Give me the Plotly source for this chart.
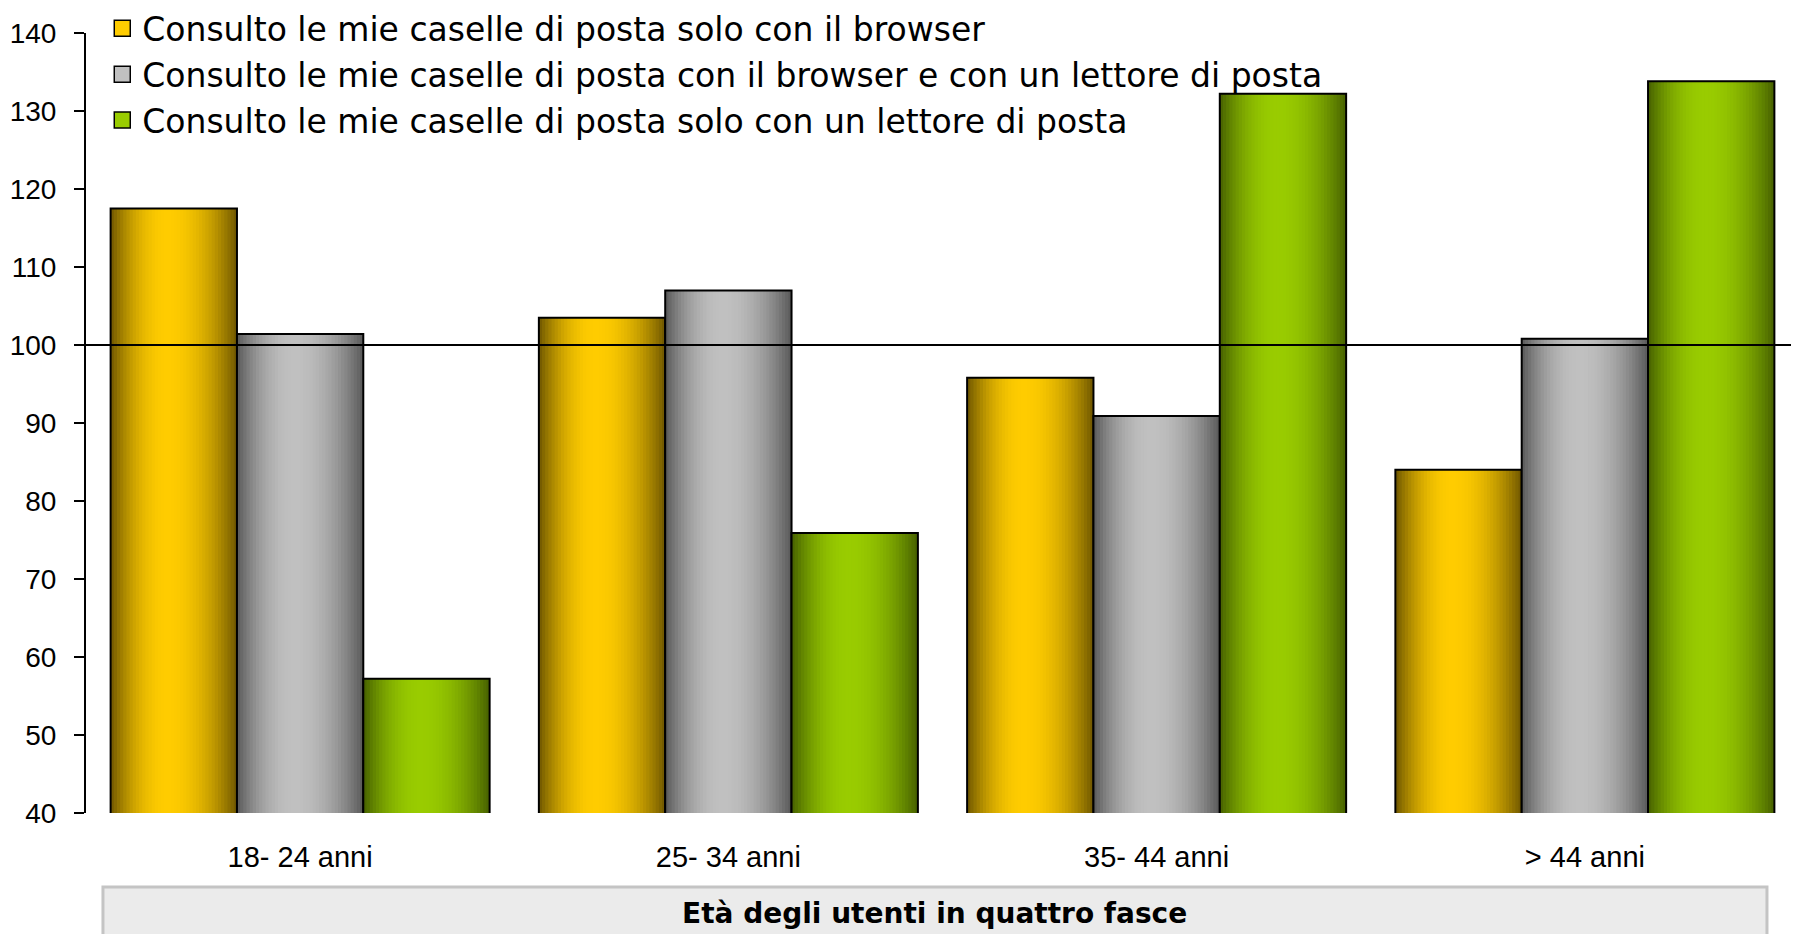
import plotly.graph_objects as go

# ---------------- data ----------------
categories = ["18- 24 anni", "25- 34 anni", "35- 44 anni", "> 44 anni"]
series_names = [
    "Consulto le mie caselle di posta solo con il browser",
    "Consulto le mie caselle di posta con il browser e con un lettore di posta",
    "Consulto le mie caselle di posta solo con un lettore di posta",
]
browser_only = [117.5, 103.5, 95.8, 84.0]
browser_and_client = [101.4, 107.0, 90.9, 100.8]
client_only = [57.2, 75.9, 132.2, 133.8]
reference_level = 100
x_title = "Età degli utenti in quattro fasce"
y_ticks = [40, 50, 60, 70, 80, 90, 100, 110, 120, 130, 140]

# ---------------- styles ----------------
series_values = [browser_only, browser_and_client, client_only]
bright = [(255, 204, 0), (192, 192, 192), (153, 204, 0)]
dark = [(110, 86, 0), (88, 88, 88), (70, 96, 0)]
BAR_W = 0.295
OFFSETS = [-0.4425, -0.1475, 0.1475]
N_STRIPS = 40
PEAK = 0.45

FONT = "Liberation Sans"


def grad_color(i, t):
    if t <= PEAK:
        f = 1 - ((PEAK - t) / PEAK) ** 2
    else:
        f = 1 - ((t - PEAK) / (1 - PEAK)) ** 2
    f = max(0.0, min(1.0, f))
    d, b = dark[i], bright[i]
    c = [round(d[k] + (b[k] - d[k]) * f) for k in range(3)]
    return f"rgb({c[0]},{c[1]},{c[2]})"


fig = go.Figure()

for i, (name, vals) in enumerate(zip(series_names, series_values)):
    # legend entry
    fig.add_trace(go.Scatter(
        x=[None], y=[None], mode="markers", name=name, legendgroup=f"g{i}",
        marker=dict(symbol="square", size=16, color="rgb(%d,%d,%d)" % bright[i],
                    line=dict(color="black", width=1.5)),
        hoverinfo="skip",
    ))
    # gradient strips
    s = BAR_W / N_STRIPS
    for k in range(N_STRIPS):
        t = (k + 0.5) / N_STRIPS
        fig.add_trace(go.Bar(
            x=categories, y=vals, showlegend=False, legendgroup=f"g{i}",
            offset=OFFSETS[i] + k * s, width=BAR_W - k * s,
            marker=dict(color=grad_color(i, t), line=dict(width=0)),
            hoverinfo="skip",
        ))
    # outline
    fig.add_trace(go.Bar(
        x=categories, y=vals, showlegend=False, legendgroup=f"g{i}",
        offset=OFFSETS[i], width=BAR_W, name=name,
        marker=dict(color="rgba(0,0,0,0)", line=dict(color="black", width=2)),
        hovertemplate="%{x}<br>%{y}<extra></extra>",
    ))

fig.add_shape(type="line", xref="paper", x0=0, x1=1, yref="y",
              y0=reference_level, y1=reference_level,
              line=dict(color="black", width=2), layer="above")

# x-axis title box
fig.add_shape(type="rect", xref="paper", yref="paper",
              x0=0.0099, x1=0.9813, y0=-0.0949, y1=-0.4,
              fillcolor="#ebebeb", line=dict(color="#c4c4c4", width=3), layer="below")
fig.add_annotation(text=f"<b>{x_title}</b>", xref="paper", yref="paper",
                   x=0.4956, y=-0.129, xanchor="center", yanchor="middle",
                   showarrow=False, font=dict(family="DejaVu Sans", size=28, color="black"))

fig.update_layout(
    width=1799, height=934,
    margin=dict(l=78, r=8, t=25, b=129, autoexpand=False),
    barmode="overlay",
    plot_bgcolor="white", paper_bgcolor="white",
    font=dict(family=FONT, color="black"),
    showlegend=True,
    legend=dict(x=0.0095, y=1.0419, xanchor="left", yanchor="top",
                font=dict(family="DejaVu Sans", size=33, color="black"),
                bgcolor="rgba(0,0,0,0)", tracegroupgap=0, traceorder="grouped"),
    xaxis=dict(type="category", showline=False, showgrid=False, ticks="",
               tickfont=dict(family=FONT, size=29, color="black"),
               ticklabelstandoff=24, range=[-0.5, 3.5]),
    yaxis=dict(range=[40, 140], tickvals=y_ticks, ticks="outside", ticklen=10,
               tickwidth=2, tickcolor="black", showline=True, linecolor="black",
               linewidth=2, showgrid=False, zeroline=False, ticklabelstandoff=12,
               tickfont=dict(family=FONT, size=28, color="black")),
)

fig.write_html("out.html")
